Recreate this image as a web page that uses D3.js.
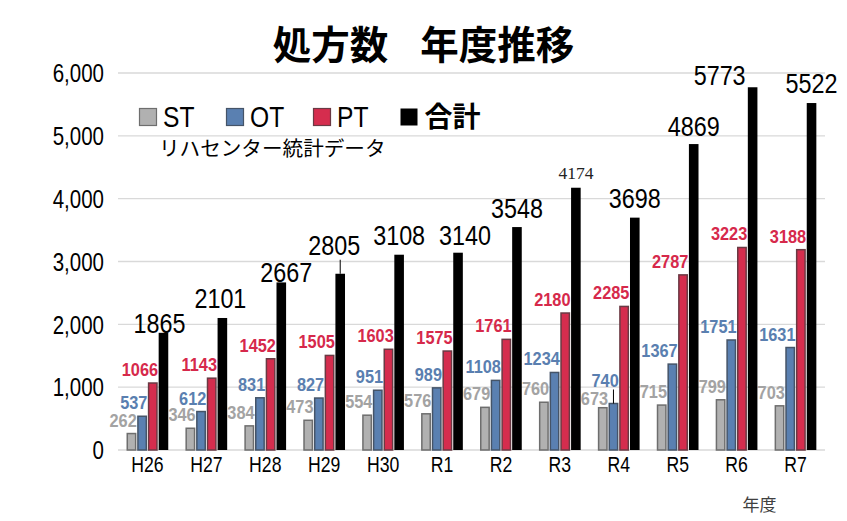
<!DOCTYPE html>
<html><head><meta charset="utf-8">
<script src="https://cdn.jsdelivr.net/npm/d3@7"></script>
<style>
html,body{margin:0;padding:0;background:#fff;}
svg{display:block;}
</style></head>
<body>
<svg id="chart" width="847" height="521"></svg>
<script>
// ---- data ----
const categories = ["H26","H27","H28","H29","H30","R1","R2","R3","R4","R5","R6","R7"];
const seriesNames = ["ST","OT","PT","合計"];
const stValues = [262,346,384,473,554,576,679,760,673,715,799,703];
const otValues = [537,612,831,827,951,989,1108,1234,740,1367,1751,1631];
const ptValues = [1066,1143,1452,1505,1603,1575,1761,2180,2285,2787,3223,3188];
const totalValues = [1865,2101,2667,2805,3108,3140,3548,4174,3698,4869,5773,5522];
const yTicks = [0,1000,2000,3000,4000,5000,6000];
const titleParts = ["処方数", "　", "年度推移"];
const subtitleText = "リハセンター統計データ";
const xAxisTitle = "年度";

// ---- layout tweaks (manual label placement as in the reference) ----
const totalLabelDx = [-4,-2,5,-6,0,7,0,0,0,0,-33,0];
const totalLabelDy = [0,-10,0,-19,-10,-8,-9,-9,-10,-8,-2,-10];
const totalLeader = [false,false,false,true,false,false,false,false,false,false,false,false];
const totalSerif = [false,false,false,false,false,false,false,true,false,false,false,false];

const svg = d3.select("#chart");
const SANS = "'Liberation Sans',Arial,sans-serif";
const CJK = "'Noto Sans CJK JP','Noto Sans CJK SC',sans-serif";
const NS = 0.82; // horizontal squeeze to emulate a narrow face

const fills = {"ST":"#b1b1b1","OT":"#5a80b1","PT":"#d52d4e","合計":"#000000"};
const strokes = {"ST":"#6e6e6e","OT":"#455468","PT":"#6a3a44","合計":"none"};
const labelColors = {"ST":"#a3a3a3","OT":"#5a7fb0","PT":"#d6294b"};

const x = d3.scaleBand().domain(categories).range([118, 825]).padding(0);
const xs = d3.scaleBand().domain(seriesNames).range([-20.8, 20.8]).paddingInner(0.1).paddingOuter(0);
const y = d3.scaleLinear().domain([0, 6000]).range([450, 73]);

// gridlines
svg.append("g").selectAll("line").data(yTicks).join("line")
  .attr("x1", 118).attr("x2", 825)
  .attr("y1", d => y(d)).attr("y2", d => y(d))
  .attr("stroke", "#d9d9d9").attr("stroke-width", 1.3);

// y axis labels
const yAxis = d3.axisLeft(y).tickValues(yTicks).tickFormat(d3.format(",")).tickSize(0).tickPadding(0);
const yg = svg.append("g").attr("transform", "translate(104,0)").call(yAxis);
yg.select(".domain").remove();
yg.selectAll("text").attr("font-family", SANS).attr("font-size", 25).attr("fill", "#000")
  .attr("x", 0).attr("dy", "0.35em").attr("transform", `scale(${NS},1)`);

// x axis labels
const xAxis = d3.axisBottom(x).tickSize(0).tickPadding(0);
const xg = svg.append("g").attr("transform", "translate(0,472)").call(xAxis);
xg.select(".domain").remove();
xg.selectAll("text").attr("font-family", SANS).attr("font-size", 21.5).attr("fill", "#000")
  .attr("y", 0).attr("dy", 0).attr("transform", `scale(${NS},1)`);

// build table
const seriesData = {"ST": stValues, "OT": otValues, "PT": ptValues, "合計": totalValues};
const rows = [];
categories.forEach((c, i) => {
  seriesNames.forEach(s => rows.push({cat: c, i, s, v: seriesData[s][i]}));
});

const bx = d => x(d.cat) + x.bandwidth() / 2 + xs(d.s);

// bars
svg.append("g").selectAll("rect").data(rows).join("rect")
  .attr("x", d => bx(d) + (d.s === "合計" ? 0 : 0.6))
  .attr("width", d => xs.bandwidth() - (d.s === "合計" ? 0 : 1.2))
  .attr("y", d => y(d.v))
  .attr("height", d => y(0) - y(d.v))
  .attr("fill", d => fills[d.s])
  .attr("stroke", d => strokes[d.s])
  .attr("stroke-width", d => d.s === "合計" ? 0 : 1.5);

// small series labels
const smallRows = rows.filter(d => d.s !== "合計");
const smallDy = d => (d.cat === "R4" && d.s === "OT") ? -17 : (d.cat === "R4" && d.s === "ST") ? -3 : -7;
svg.append("g").selectAll("text").data(smallRows).join("text")
  .attr("transform", d => `translate(${bx(d) + xs.bandwidth() + 0.5},${y(d.v) + smallDy(d)}) scale(0.86,1)`)
  .attr("text-anchor", "end")
  .attr("font-family", SANS).attr("font-weight", "bold").attr("font-size", 19)
  .attr("fill", d => labelColors[d.s])
  .text(d => d.v);
// leader for R4 OT
const r4ot = smallRows.find(d => d.cat === "R4" && d.s === "OT");
svg.append("line")
  .attr("x1", bx(r4ot) + xs.bandwidth()/2).attr("x2", bx(r4ot) + xs.bandwidth()/2)
  .attr("y1", y(r4ot.v) - 14).attr("y2", y(r4ot.v))
  .attr("stroke", "#000").attr("stroke-width", 1);

// total labels
const totRows = rows.filter(d => d.s === "合計");
svg.append("g").selectAll("text").data(totRows).join("text")
  .attr("transform", d => `translate(${bx(d) + xs.bandwidth()/2 + totalLabelDx[d.i]},${y(d.v) + totalLabelDy[d.i]})` + (totalSerif[d.i] ? "" : ` scale(${NS},1)`))
  .attr("text-anchor", "middle")
  .attr("font-family", d => totalSerif[d.i] ? "'Liberation Serif','Times New Roman',serif" : SANS)
  .attr("font-size", d => totalSerif[d.i] ? 17.5 : 28.5)
  .attr("fill", d => totalSerif[d.i] ? "#222" : "#000")
  .text(d => d.v);
svg.append("g").selectAll("line").data(totRows.filter(d => totalLeader[d.i])).join("line")
  .attr("x1", d => bx(d) + xs.bandwidth()/2).attr("x2", d => bx(d) + xs.bandwidth()/2)
  .attr("y1", d => y(d.v) + totalLabelDy[d.i] + 5).attr("y2", d => y(d.v))
  .attr("stroke", "#000").attr("stroke-width", 1);

// title
const title = svg.append("text").attr("x", 423.5).attr("y", 59).attr("text-anchor", "middle")
  .attr("font-family", CJK).attr("font-weight", "bold").attr("font-size", 38.5)
  .attr("fill", "#000");
title.selectAll("tspan").data(titleParts).join("tspan")
  .attr("font-size", (d, i) => i === 1 ? 32 : 38.5)
  .text(d => d);

// legend
const lg = svg.append("g");
const legendX = seriesNames.map((s, i) => 139.5 + i * 87);
seriesNames.forEach((s, i) => {
  lg.append("rect").attr("x", legendX[i]).attr("y", 108.5).attr("width", 17).attr("height", 17)
    .attr("fill", fills[s]).attr("stroke", s === "合計" ? "none" : strokes[s]).attr("stroke-width", 1.2);
  const t = lg.append("text")
    .attr("font-family", s === "合計" ? CJK : SANS)
    .attr("font-weight", s === "合計" ? "bold" : "normal")
    .attr("font-size", s === "合計" ? 28 : 30)
    .attr("fill", "#000").text(s);
  if (s === "合計") t.attr("x", legendX[i] + 24).attr("y", 127);
  else t.attr("transform", `translate(${legendX[i] + 23.5},127) scale(${NS},1)`);
});

// subtitle
svg.append("text").attr("x", 159).attr("y", 156)
  .attr("font-family", CJK).attr("font-size", 20.6).attr("fill", "#000").text(subtitleText);

// x axis title
svg.append("text").attr("x", 759.5).attr("y", 511).attr("text-anchor", "middle")
  .attr("font-family", CJK).attr("font-size", 17).attr("fill", "#404040").text(xAxisTitle);
</script>
</body></html>
